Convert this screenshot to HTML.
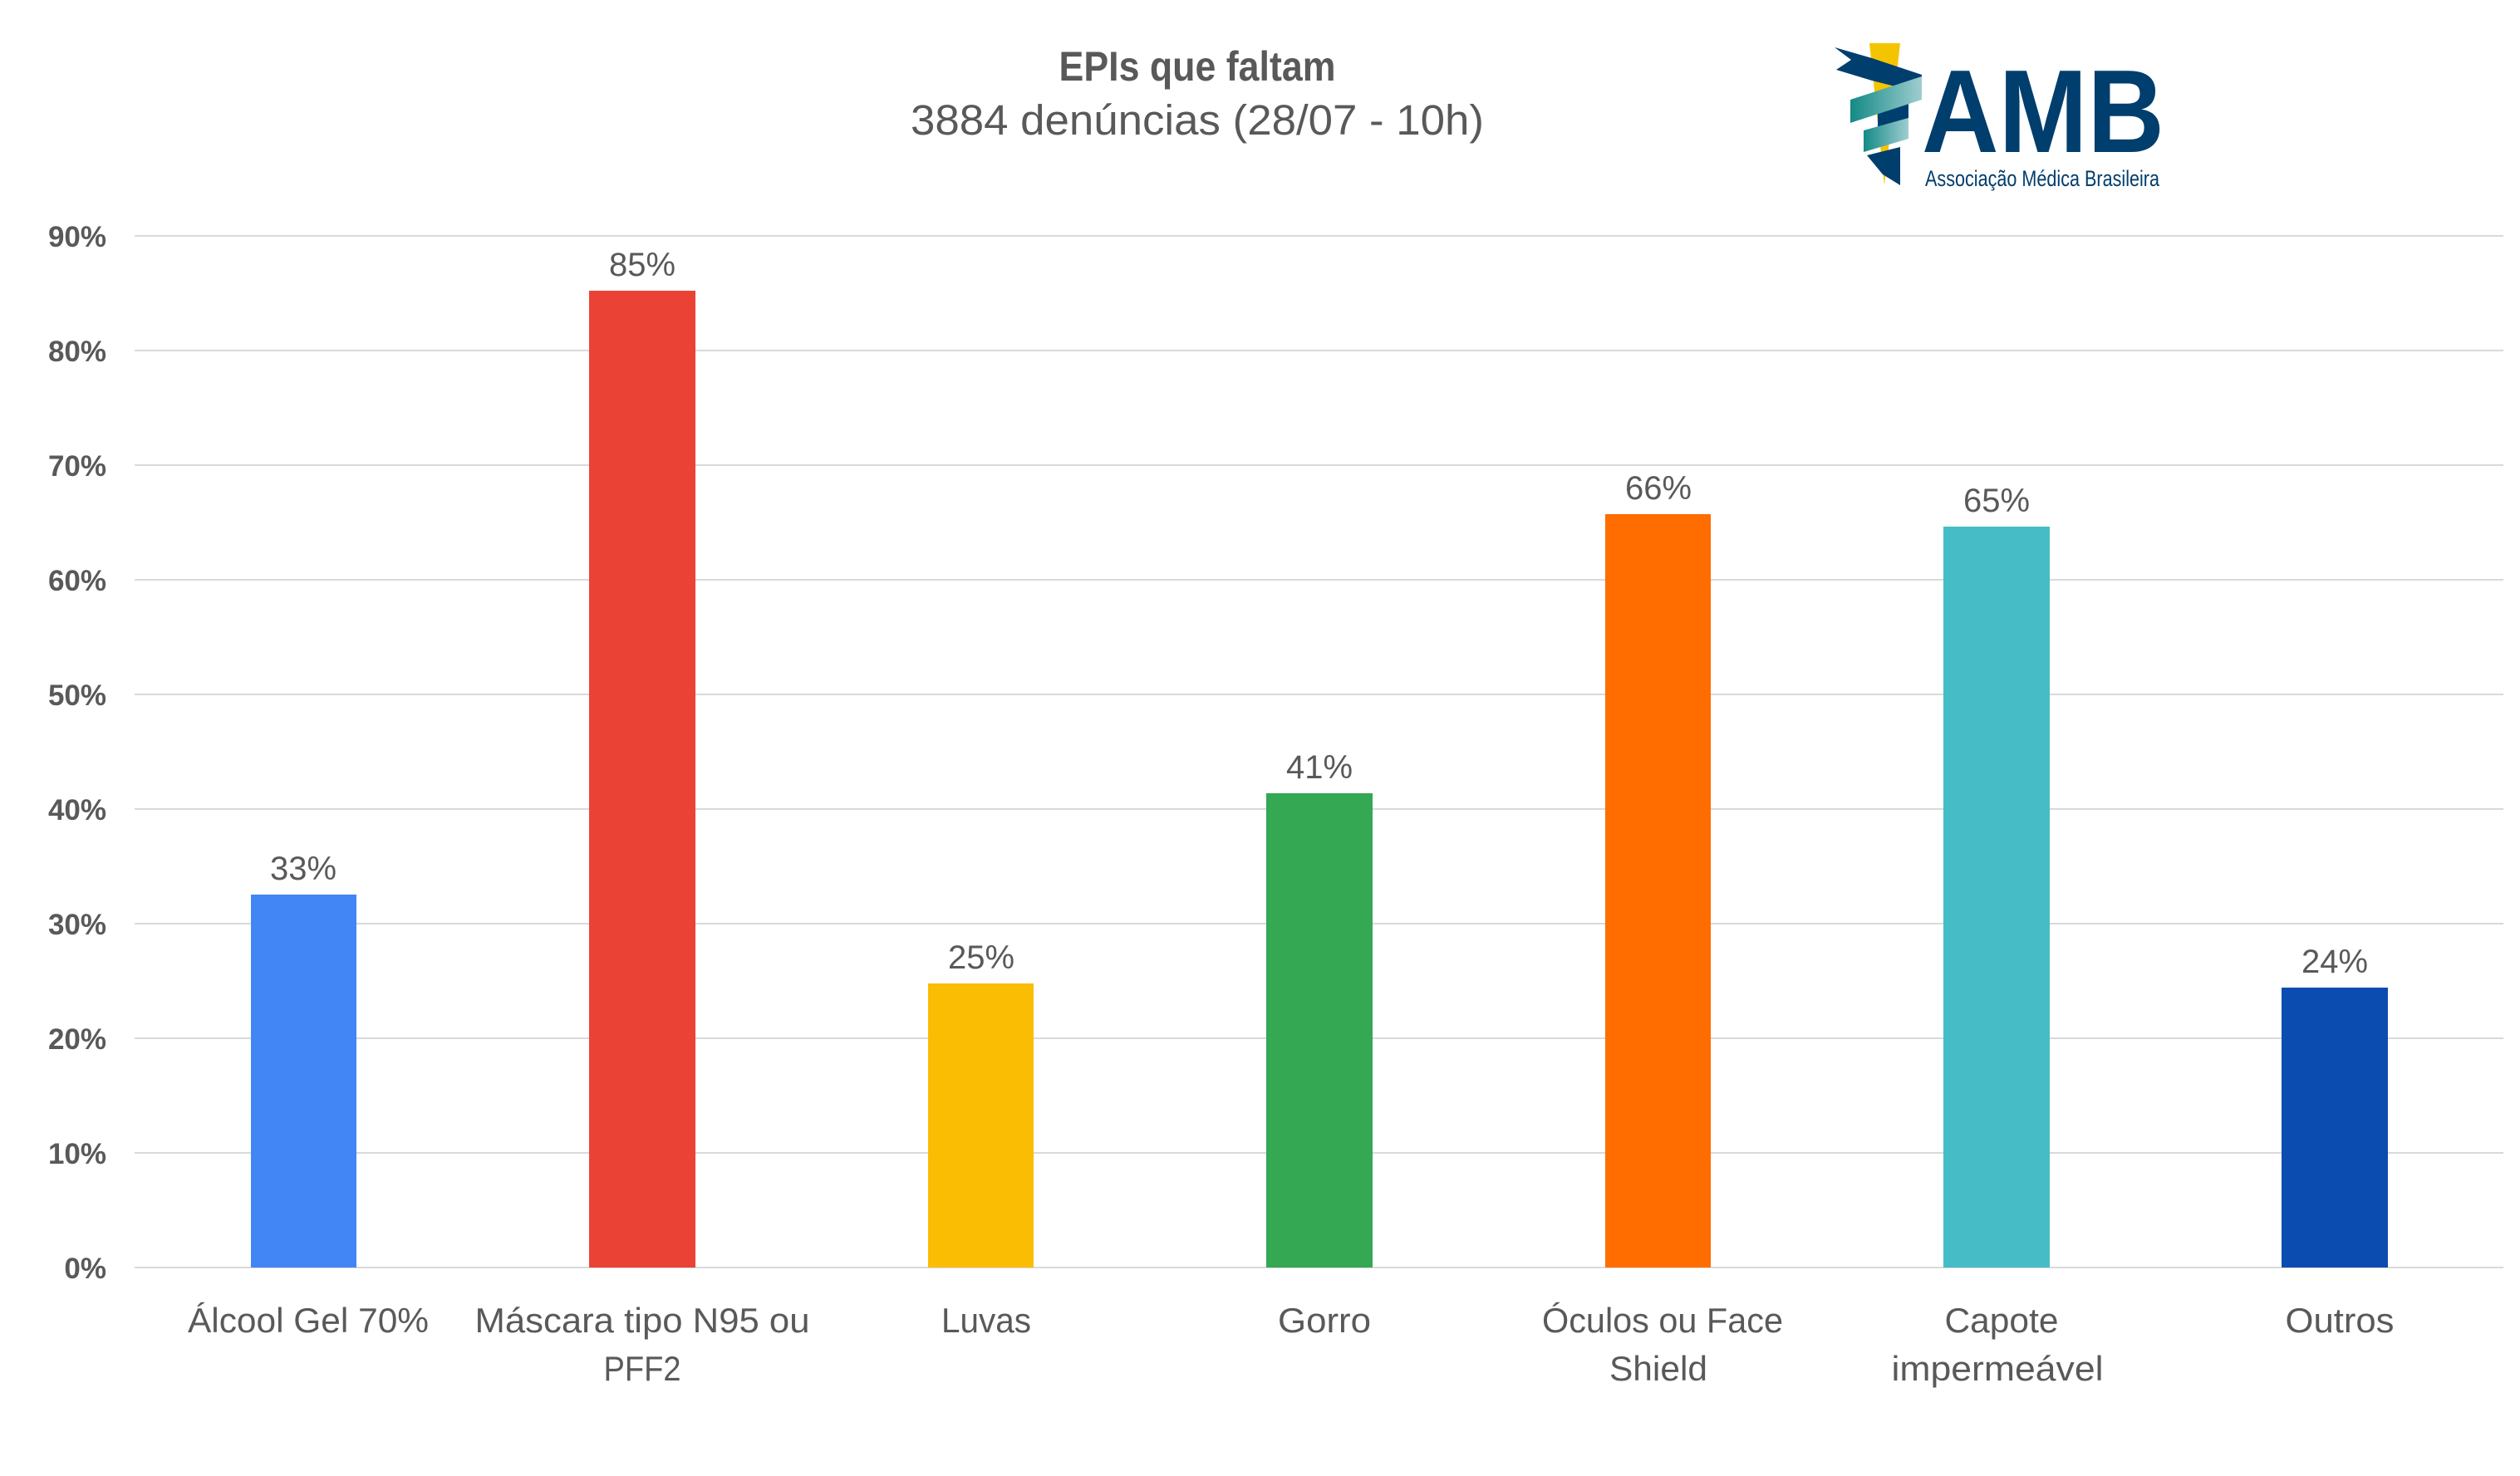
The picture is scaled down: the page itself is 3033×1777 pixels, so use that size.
<!DOCTYPE html>
<html><head><meta charset="utf-8">
<style>
html,body{margin:0;padding:0;background:#fff;}
svg{display:block;}
</style></head>
<body>
<svg width="3033" height="1777" viewBox="0 0 3033 1777" xmlns="http://www.w3.org/2000/svg">
<rect width="3033" height="1777" fill="#fff"/>
<!-- title -->
<text x="1441" y="97" text-anchor="middle" font-family="Liberation Sans, sans-serif" font-weight="bold" font-size="50" fill="#595959" textLength="333" lengthAdjust="spacingAndGlyphs">EPIs que faltam</text>
<text x="1441" y="162" text-anchor="middle" font-family="Liberation Sans, sans-serif" font-size="51" fill="#595959" textLength="690" lengthAdjust="spacingAndGlyphs">3884 denúncias (28/07 - 10h)</text>
<!-- logo -->
<g>
<polygon points="2250,52 2287,52 2268,223" fill="#f5c400"/>
<polygon points="2208,57 2253,70 2313,90 2313,112 2253,97 2210,84 2228,72" fill="#003e6e"/>
<polygon points="2260,132 2297,122 2297,150 2260,160" fill="#003e6e"/>
<defs><linearGradient id="tg" x1="0" x2="1"><stop offset="0" stop-color="#138a86"/><stop offset="1" stop-color="#9fcdd0"/></linearGradient></defs>
<polygon points="2227,120 2313,92 2313,120 2227,148" fill="url(#tg)"/>
<polygon points="2243,157 2297,142 2297,167 2243,183" fill="url(#tg)"/>
<polygon points="2247,187 2287,177 2287,223 2266,210" fill="#003e6e"/>
<text x="2313" y="183" font-family="Liberation Sans, sans-serif" font-weight="bold" font-size="142" fill="#003e6e" textLength="292" lengthAdjust="spacingAndGlyphs">AMB</text>
<text x="2317" y="224" font-family="Liberation Sans, sans-serif" font-size="27" fill="#003e6e" textLength="282" lengthAdjust="spacingAndGlyphs">Associação Médica Brasileira</text>
</g>
<!-- gridlines -->
<g stroke="#d9d9d9" stroke-width="2">
<line x1="162" x2="3013" y1="284" y2="284"/>
<line x1="162" x2="3013" y1="422" y2="422"/>
<line x1="162" x2="3013" y1="560" y2="560"/>
<line x1="162" x2="3013" y1="698" y2="698"/>
<line x1="162" x2="3013" y1="836" y2="836"/>
<line x1="162" x2="3013" y1="974" y2="974"/>
<line x1="162" x2="3013" y1="1112" y2="1112"/>
<line x1="162" x2="3013" y1="1250" y2="1250"/>
<line x1="162" x2="3013" y1="1388" y2="1388"/>
<line x1="162" x2="3013" y1="1526" y2="1526"/>
</g>
<!-- y labels -->
<g font-family="Liberation Sans, sans-serif" font-weight="bold" font-size="35" fill="#595959" text-anchor="end">
<text x="128" y="297">90%</text>
<text x="128" y="435">80%</text>
<text x="128" y="573">70%</text>
<text x="128" y="711">60%</text>
<text x="128" y="849">50%</text>
<text x="128" y="987">40%</text>
<text x="128" y="1125">30%</text>
<text x="128" y="1263">20%</text>
<text x="128" y="1401">10%</text>
<text x="128" y="1539">0%</text>
</g>
<!-- bars -->
<rect x="302" y="1077" width="127" height="449" fill="#4285f4"/>
<rect x="709" y="350" width="128" height="1176" fill="#ea4335"/>
<rect x="1117" y="1184" width="127" height="342" fill="#fbbc04"/>
<rect x="1524" y="955" width="128" height="571" fill="#34a853"/>
<rect x="1932" y="619" width="127" height="907" fill="#ff6d01"/>
<rect x="2339" y="634" width="128" height="892" fill="#46bdc6"/>
<rect x="2746" y="1189" width="128" height="337" fill="#0b4cb0"/>
<!-- value labels -->
<g font-family="Liberation Sans, sans-serif" font-size="40" fill="#595959" text-anchor="middle">
<text x="365" y="1059" textLength="80" lengthAdjust="spacingAndGlyphs">33%</text>
<text x="773" y="332" textLength="80" lengthAdjust="spacingAndGlyphs">85%</text>
<text x="1181" y="1166" textLength="80" lengthAdjust="spacingAndGlyphs">25%</text>
<text x="1588" y="937" textLength="80" lengthAdjust="spacingAndGlyphs">41%</text>
<text x="1996" y="601" textLength="80" lengthAdjust="spacingAndGlyphs">66%</text>
<text x="2403" y="616" textLength="80" lengthAdjust="spacingAndGlyphs">65%</text>
<text x="2810" y="1171" textLength="80" lengthAdjust="spacingAndGlyphs">24%</text>
</g>
<!-- category labels -->
<g font-family="Liberation Sans, sans-serif" font-size="42" fill="#595959" text-anchor="middle">
<text x="371" y="1604" textLength="290" lengthAdjust="spacingAndGlyphs">Álcool Gel 70%</text>
<text x="773" y="1604" textLength="403" lengthAdjust="spacingAndGlyphs">Máscara tipo N95 ou</text>
<text x="773" y="1662" textLength="93" lengthAdjust="spacingAndGlyphs">PFF2</text>
<text x="1187" y="1604" textLength="108" lengthAdjust="spacingAndGlyphs">Luvas</text>
<text x="1594" y="1604" textLength="112" lengthAdjust="spacingAndGlyphs">Gorro</text>
<text x="2001" y="1604" textLength="290" lengthAdjust="spacingAndGlyphs">Óculos ou Face</text>
<text x="1996" y="1662" textLength="118" lengthAdjust="spacingAndGlyphs">Shield</text>
<text x="2409" y="1604" textLength="137" lengthAdjust="spacingAndGlyphs">Capote</text>
<text x="2404" y="1662" textLength="255" lengthAdjust="spacingAndGlyphs">impermeável</text>
<text x="2816" y="1604" textLength="131" lengthAdjust="spacingAndGlyphs">Outros</text>
</g>
</svg>
</body></html>
